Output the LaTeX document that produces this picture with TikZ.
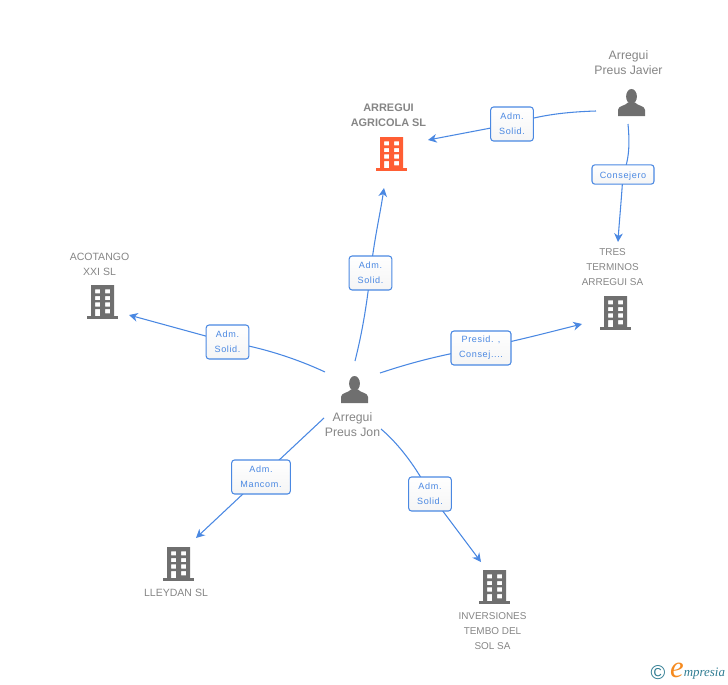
\documentclass[tikz,border=0pt]{standalone}
\usepackage{fontspec}
\setmainfont{Liberation Sans}
\newfontfamily\boxfont[LetterSpace=7]{Liberation Sans}
\newfontfamily\logofont{Liberation Serif}
\usetikzlibrary{arrows.meta,backgrounds}
\definecolor{linkblue}{HTML}{4A88E2}
\definecolor{icongray}{HTML}{6F6F6F}
\definecolor{namegray}{HTML}{858585}
\definecolor{firmred}{HTML}{FF5E34}
\definecolor{logoteal}{HTML}{2F7C92}
\definecolor{logoorange}{HTML}{F58A1F}
\tikzset{
    link/.style = {linkblue, line width=0.8pt, -{Stealth[length=6.5pt,width=6.5pt,inset=2pt]}},
    rolebox/.style = {draw=linkblue, line width=0.8pt, rounded corners=2.2pt, top color=white, bottom color=black!4,
        font=\boxfont\fontsize{6.8}{11.2}\selectfont, text=linkblue, align=center, inner sep=0pt,
        execute at begin node={\rule{0pt}{6.8pt}}},
    entity/.style = {font=\fontsize{7.9}{11.2}\selectfont, text=namegray, align=center, inner sep=0pt},
    longcaps/.style = {entity, font=\fontsize{7.45}{11.2}\selectfont},
    personname/.style = {entity, font=\fontsize{9.2}{11.2}\selectfont},
    logopart/.style = {inner sep=0pt, minimum size=1pt},
    pics/firm/.style = {code = {
        \fill[#1, even odd rule] (-11.5,-17) rectangle (11.5,14)
            (-7.5,-12.7) rectangle (-2.5,-8.7) (2.5,-12.7) rectangle (7.5,-8.7)
            (-7.5,-6) rectangle (-2.5,-2) (2.5,-6) rectangle (7.5,-2)
            (-7.5,0.3) rectangle (-2.5,4.7) (2.5,0.3) rectangle (7.5,4.7)
            (-7.5,7) rectangle (-2.5,14) (2.5,7) rectangle (7.5,11.3);
        \fill[#1] (-15.7,14) rectangle (15.7,17);
    }},
    pics/person/.style = {code = {
        \fill[icongray] (0,-6.5) ellipse (5.4 and 7.5);
        \fill[icongray] (-13.5,13) -- (-13.5,7) .. controls (-13.5,2.5) and (-6,3) .. (-3.5,-0.5)
            -- (3.5,-0.5) .. controls (6,3) and (13.5,2.5) .. (13.5,7) -- (13.5,13) -- cycle;
    }}
}
\begin{document}
\begin{tikzpicture}[x=0.75pt, y=-0.75pt]
    \useasboundingbox (0,0) rectangle (728,685);
    % people and companies
    \node[personname] (javier) at (628.5,62.5) {Arregui\\Preus Javier};
    \pic at (631.5,103) {person};
    \node[personname] (jon) at (352.5,424.5) {Arregui\\Preus Jon};
    \pic at (354.5,390) {person};
    \node[entity, font=\bfseries\fontsize{8.2}{11.2}\selectfont] (agricola) at (388.5,115.7) {ARREGUI\\AGRICOLA SL};
    \pic at (391.5,154) {firm=firmred};
    \node[entity] (acotango) at (99.5,264) {ACOTANGO\\XXI SL};
    \pic at (102.5,302) {firm=icongray};
    \node[longcaps] (tres) at (612.5,267.5) {TRES\\TERMINOS\\ARREGUI SA};
    \pic at (615.5,313) {firm=icongray};
    \node[entity] (lleydan) at (176,593) {LLEYDAN SL};
    \pic at (178.5,564) {firm=icongray};
    \node[longcaps] (inversiones) at (492.5,631.5) {INVERSIONES\\TEMBO DEL\\SOL SA};
    \pic at (494.5,587) {firm=icongray};
    % role boxes
    \node[rolebox, minimum width=32pt, minimum height=25.5pt] (admjavier) at (512,124) {Adm.\\Solid.};
    \node[rolebox, minimum width=46.5pt, minimum height=14.5pt] (consejero) at (623,174.5) {Consejero};
    \node[rolebox, minimum width=32pt, minimum height=25.5pt] (admjon) at (370.5,273) {Adm.\\Solid.};
    \node[rolebox, minimum width=32pt, minimum height=25.5pt] (admaco) at (227.5,342) {Adm.\\Solid.};
    \node[rolebox, minimum width=45pt, minimum height=25.5pt] (presid) at (481,348) {Presid. ,\\Consej....};
    \node[rolebox, minimum width=44pt, minimum height=25.5pt] (mancom) at (261,477) {Adm.\\Mancom.};
    \node[rolebox, minimum width=32pt, minimum height=25.5pt] (admtem) at (430,494) {Adm.\\Solid.};
    % free ends
    \coordinate (javierleft) at (596,111);
    \coordinate (javierdown) at (628,124);
    \coordinate (jonup) at (355,361);
    \coordinate (jonleft) at (325,372);
    \coordinate (jonright) at (380,373);
    \coordinate (jondownl) at (324,418);
    \coordinate (jondownr) at (381,429);
    \coordinate (tipagricola) at (428,140);
    \coordinate (tiptres) at (618,242);
    \coordinate (tipup) at (384,188);
    \coordinate (tipaco) at (129,315);
    \coordinate (tipright) at (582,324);
    \coordinate (tipley) at (196,538);
    \coordinate (tipinv) at (481,562);
    \begin{pgfonlayer}{background}
        \draw[link] (javierleft) .. controls (565,112) and (540,115) .. (admjavier.center) -- (tipagricola);
        \draw[link] (javierdown) .. controls (630,145) and (629,160) .. (consejero.center) .. controls (621,205) and (619,225) .. (tiptres);
        \draw[link] (jonup) .. controls (364,325) and (367,300) .. (admjon.center) .. controls (374,240) and (380,215) .. (tipup);
        \draw[link] (jonleft) .. controls (295,358) and (260,347) .. (admaco.center) -- (tipaco);
        \draw[link] (jonright) .. controls (410,363) and (440,355) .. (presid.center) .. controls (520,340) and (550,332) .. (tipright);
        \draw[link] (jondownl) -- (mancom.center) -- (tipley);
        \draw[link] (jondownr) .. controls (400,445) and (418,470) .. (admtem.center) -- (tipinv);
    \end{pgfonlayer}
    % logo
    \node[logopart, text=logoteal, font=\fontsize{15}{15}\selectfont] (copyr) at (658,673) {©};
    \node[logopart, text=logoorange, font=\logofont\itshape\fontsize{23}{23}\selectfont] (logoe) at (677,670) {e};
    \node[logopart, text=logoteal, anchor=west, font=\logofont\itshape\fontsize{9.7}{10}\selectfont] (logotext) at (683.5,674) {mpresia};
\end{tikzpicture}
\end{document}
